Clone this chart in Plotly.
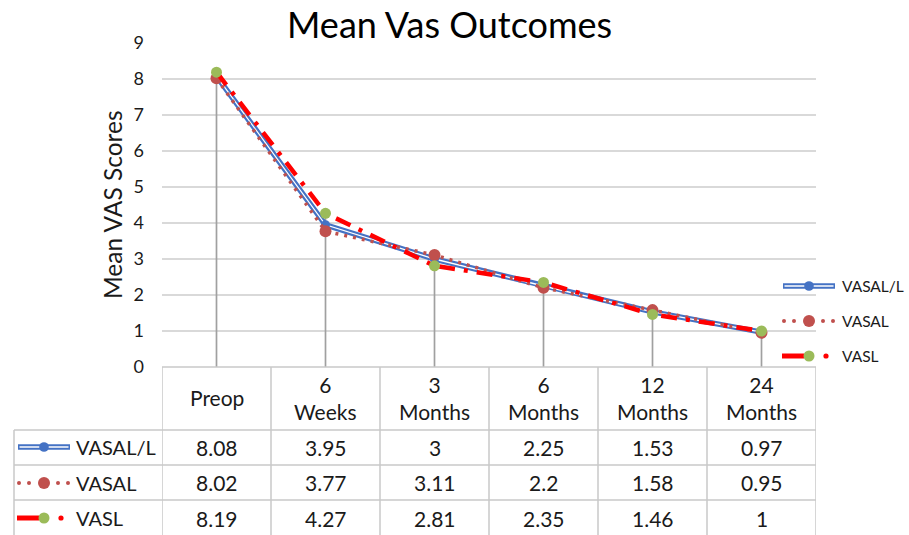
import plotly.graph_objects as go

# ---------------- data ----------------
categories = ["Preop", "6<br>Weeks", "3<br>Months", "6<br>Months", "12<br>Months", "24<br>Months"]
series_names = ["VASAL/L", "VASAL", "VASL"]
vasal_l = [8.08, 3.95, 3, 2.25, 1.53, 0.97]
vasal = [8.02, 3.77, 3.11, 2.2, 1.58, 0.95]
vasl = [8.19, 4.27, 2.81, 2.35, 1.46, 1]
y_ticks = [0, 1, 2, 3, 4, 5, 6, 7, 8, 9]
title_text = "Mean Vas Outcomes"
y_title = "Mean VAS Scores"

# ---------------- styling ----------------
W, H = 909, 535
FONT = "Lato"
TXT = "#1a1a1a"
BLUE = "#4472C4"
DKRED = "#C0504D"
RED = "#FF0000"
GREEN = "#9BBB59"
GRID = "#D9D9D9"
TBL = "#C8C8C8"
DROP = "#A0A0A0"


def px(p):
    return p / W


def py(p):
    return 1 - p / H


x = list(range(len(categories)))
fig = go.Figure()

# drop lines (from highest point at each category down to 0)
dx, dy = [], []
for i in x:
    top = max(vasal_l[i], vasal[i], vasl[i])
    dx += [i, i, None]
    dy += [0, top, None]
fig.add_trace(go.Scatter(x=dx, y=dy, mode="lines", line=dict(color=DROP, width=1.7),
                         hoverinfo="skip", showlegend=False))

# VASAL/L : compound blue line (blue with white core)
fig.add_trace(go.Scatter(x=x, y=vasal_l, mode="lines", line=dict(color=BLUE, width=5.5),
                         showlegend=False, name=series_names[0]))
fig.add_trace(go.Scatter(x=x, y=vasal_l, mode="lines", line=dict(color="white", width=1.3),
                         showlegend=False, hoverinfo="skip"))
fig.add_trace(go.Scatter(x=x, y=vasal_l, mode="markers", marker=dict(color=BLUE, size=9),
                         showlegend=False, hoverinfo="skip"))

# VASAL : dotted dark red
fig.add_trace(go.Scatter(x=x, y=vasal, mode="lines+markers",
                         line=dict(color=DKRED, width=3.5, dash="3px,6px"),
                         marker=dict(color=DKRED, size=12),
                         showlegend=False, name=series_names[1]))

# VASL : red long-dash-dot, green markers
fig.add_trace(go.Scatter(x=x, y=vasl, mode="lines+markers",
                         line=dict(color=RED, width=4.5, dash="16px,9px,4px,9px"),
                         marker=dict(color=GREEN, size=11),
                         showlegend=False, name=series_names[2]))

shapes = []
annotations = []

# ---------------- table ----------------
shapes.append(dict(type="line", xref="x", yref="paper", x0=-0.5, x1=len(x) - 0.5,
                   y0=py(367), y1=py(367), line=dict(color=TBL, width=1.5)))
for yy in [430, 465, 500]:
    shapes.append(dict(type="line", xref="paper", yref="paper", x0=px(14), x1=px(816),
                       y0=py(yy), y1=py(yy), line=dict(color=TBL, width=1.5)))
shapes.append(dict(type="line", xref="paper", yref="paper", x0=px(14), x1=px(14),
                   y0=py(430), y1=py(535), line=dict(color=TBL, width=1.5)))
for k in range(len(x) + 1):
    shapes.append(dict(type="line", xref="x", yref="paper", x0=k - 0.5, x1=k - 0.5,
                       y0=py(367), y1=py(535), line=dict(color=TBL, width=1.5)))

TFS = 21
for i, c in enumerate(categories):
    annotations.append(dict(xref="x", yref="paper", x=i, y=py(397.5), text=c, showarrow=False,
                            font=dict(family=FONT, size=TFS, color=TXT),
                            xanchor="center", yanchor="middle"))

row_y = [447, 483, 518]
all_vals = [vasal_l, vasal, vasl]
for r, vals in enumerate(all_vals):
    for i, v in enumerate(vals):
        annotations.append(dict(xref="x", yref="paper", x=i, y=py(row_y[r]), text=f"{v:g}",
                                showarrow=False, font=dict(family=FONT, size=TFS, color=TXT),
                                xanchor="center", yanchor="middle"))
    annotations.append(dict(xref="paper", yref="paper", x=px(74), y=py(row_y[r]),
                            text=series_names[r], showarrow=False,
                            font=dict(family=FONT, size=20, color=TXT),
                            xanchor="left", yanchor="middle"))


def circle(cx, cy, r, color):
    shapes.append(dict(type="circle", xref="paper", yref="paper",
                       x0=px(cx - r), x1=px(cx + r), y0=py(cy + r), y1=py(cy - r),
                       fillcolor=color, line=dict(width=0)))


def seg(x0, x1, yy, color, w):
    shapes.append(dict(type="line", xref="paper", yref="paper", x0=px(x0), x1=px(x1),
                       y0=py(yy), y1=py(yy), line=dict(color=color, width=w)))


def key(idx, xc, yc):
    if idx == 0:
        seg(xc - 26, xc + 26, yc, BLUE, 5.5)
        seg(xc - 24.5, xc + 24.5, yc, "white", 1.3)
        circle(xc, yc, 4.8, BLUE)
    elif idx == 1:
        for off in (-25, -15, 14, 24):
            circle(xc + off, yc, 2, DKRED)
        circle(xc, yc, 6, DKRED)
    else:
        seg(xc - 27, xc - 5, yc, RED, 5)
        circle(xc, yc, 5.5, GREEN)
        circle(xc + 17, yc, 2.6, RED)


for r in range(3):
    key(r, 44, row_y[r])

# ---------------- right legend ----------------
leg_y = [286, 321, 356]
for r in range(3):
    key(r, 809, leg_y[r])
    annotations.append(dict(xref="paper", yref="paper", x=px(840), y=py(leg_y[r]),
                            text=series_names[r], showarrow=False,
                            font=dict(family=FONT, size=15.5, color=TXT),
                            xanchor="left", yanchor="middle"))

annotations.append(dict(xref="paper", yref="paper", x=px(449), y=py(24), text=title_text,
                        showarrow=False, font=dict(family=FONT, size=36, color="black"),
                        xanchor="center", yanchor="middle"))
annotations.append(dict(xref="paper", yref="paper", x=px(113), y=py(205), text=y_title,
                        showarrow=False, textangle=-90,
                        font=dict(family=FONT, size=24.5, color=TXT),
                        xanchor="center", yanchor="middle"))

fig.update_layout(
    width=W, height=H,
    margin=dict(l=0, r=0, t=0, b=0, pad=0, autoexpand=False),
    paper_bgcolor="white", plot_bgcolor="white",
    showlegend=False,
    shapes=shapes, annotations=annotations,
    xaxis=dict(domain=[px(162), px(816)], range=[-0.5, len(x) - 0.5], automargin=False,
               showticklabels=False, showgrid=False, zeroline=False, showline=False),
    yaxis=dict(domain=[py(367), py(43)], range=[0, 9], tickvals=y_ticks, automargin=False,
               showgrid=True, gridcolor=GRID, gridwidth=1.5, zeroline=False, showline=False,
               tickfont=dict(family=FONT, size=18, color=TXT), ticklabelstandoff=17),
)

fig.write_html("out.html", config={"displayModeBar": False},
               post_script="document.body.style.margin='0';")
